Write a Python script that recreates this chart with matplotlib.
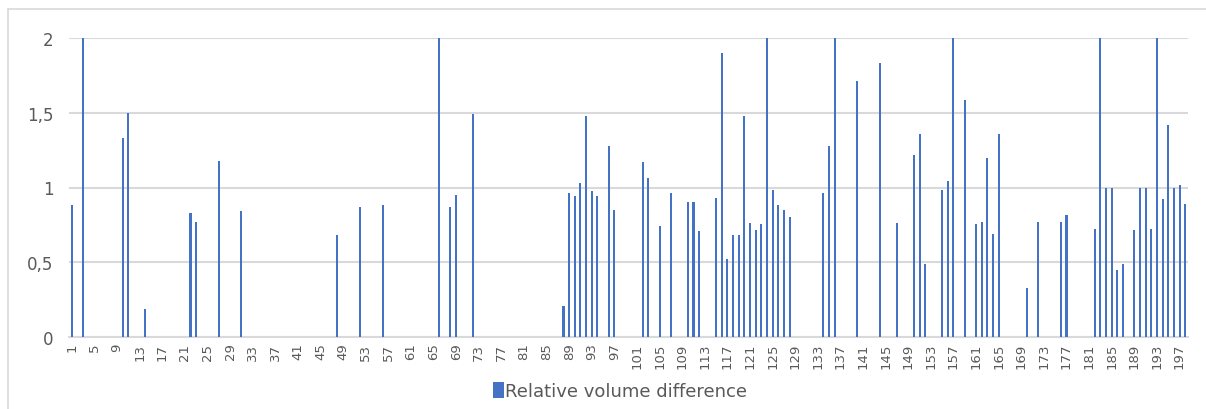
import numpy as np
import matplotlib.pyplot as plt
from matplotlib.patches import Patch
from matplotlib.lines import Line2D

# Observation numbers run 1..198; only these have a non-zero difference
n_obs = 198
bar_ids = [1, 3, 10, 11, 14, 22, 23, 27, 31, 48,
           52, 56, 66, 68, 69, 72, 88, 89, 90, 91, 92, 93, 94, 96, 97,
           102, 103, 105, 107, 110, 111, 112, 115, 116, 117, 118, 119, 120,
           121, 122, 123, 124, 125, 126, 127, 128, 134, 135, 136, 140, 144, 147,
           150, 151, 152, 155, 156, 157, 159, 161, 162, 163, 164, 165,
           170, 172, 176, 177, 182, 183, 184, 185, 186, 187,
           189, 190, 191, 192, 193, 194, 195, 196, 197, 198]
bar_values = [0.88, 2.0, 1.33, 1.50, 0.19, 0.83, 0.77, 1.18, 0.84, 0.68,
              0.87, 0.88, 2.0, 0.87, 0.95, 1.49, 0.21, 0.96, 0.945, 1.03, 1.475, 0.975, 0.94, 1.28, 0.85,
              1.17, 1.065, 0.74, 0.96, 0.90, 0.90, 0.71, 0.93, 1.90, 0.52, 0.685, 0.68, 1.475,
              0.765, 0.715, 0.755, 2.0, 0.98, 0.885, 0.85, 0.80, 0.965, 1.275, 2.0, 1.715, 1.83, 0.765,
              1.215, 1.36, 0.485, 0.985, 1.045, 2.0, 1.585, 0.755, 0.77, 1.195, 0.69, 1.355,
              0.33, 0.77, 0.77, 0.815, 0.725, 2.0, 1.0, 1.0, 0.445, 0.49,
              0.715, 1.0, 1.0, 0.72, 2.0, 0.925, 1.415, 1.0, 1.02, 0.89]
y_ticks = [0, 0.5, 1, 1.5, 2]
y_tick_labels = ["0", "0,5", "1", "1,5", "2"]

values = np.zeros(n_obs)
values[np.array(bar_ids) - 1] = bar_values
labels = [str(i) for i in range(1, n_obs + 1)]

blue = "#4472C4"
grid = "#D9D9D9"
text_gray = "#595959"

fig = plt.figure(figsize=(12.06, 4.10), dpi=100)
ax = fig.add_axes([69 / 1206, 1 - 338 / 410, (1188 - 69) / 1206, (338 - 39) / 410])

x = np.arange(n_obs)
ax.bar(x, values, width=0.36, color=blue, zorder=3)

ax.set_xlim(-0.5, n_obs - 0.5)
ax.set_ylim(0, 2)
ax.set_yticks(y_ticks)
ax.set_yticklabels(y_tick_labels)
ax.set_xticks(x[::4])
ax.set_xticklabels(labels[::4], rotation=90)
ax.tick_params(axis="y", length=0, pad=11, labelsize=12, labelcolor=text_gray)
ax.tick_params(axis="x", length=0, pad=4, labelsize=9.5, labelcolor=text_gray)
ax.yaxis.grid(True, color=grid, linewidth=1.5, zorder=0)
for side in ["left", "right", "top"]:
    ax.spines[side].set_visible(False)
ax.spines["bottom"].set_color(grid)
ax.spines["bottom"].set_linewidth(1.5)

# chart area border (left and top edges only; the rest runs off the image)
bx, by = 8 / 1206, 1 - 10 / 410
fig.add_artist(Line2D([bx, bx], [0, by], transform=fig.transFigure,
                      color=grid, linewidth=1.2))
fig.add_artist(Line2D([bx, 1], [by, by], transform=fig.transFigure,
                      color=grid, linewidth=1.2))

handle = Patch(facecolor=blue, edgecolor="none")
fig.legend([handle], ["Relative volume difference"], loc="center",
           bbox_to_anchor=(620 / 1206, 1 - 392 / 410), frameon=False,
           fontsize=13, handlelength=0.6, handleheight=1.0, handletextpad=0.1,
           labelcolor=text_gray)

fig.savefig("out.png", dpi=100)
